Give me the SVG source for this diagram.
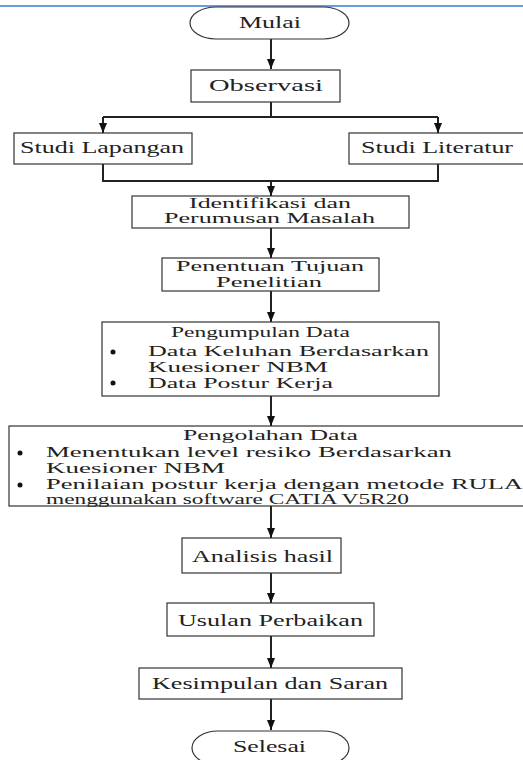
<svg xmlns="http://www.w3.org/2000/svg" width="523" height="760" viewBox="0 0 523 760">
<style>
.box{fill:#fff;stroke:#333;stroke-width:1.2}
.t{font-family:"Liberation Serif","Times New Roman","DejaVu Serif",serif;font-size:16px;fill:#222}
.s{font-size:14.5px}
.r{font-size:14px}
.c{stroke:#222;stroke-width:2;fill:none}
.b{fill:#111}
</style>
<defs>
<marker id="ah" viewBox="0 0 10 8" refX="10" refY="4" markerWidth="10" markerHeight="8" markerUnits="userSpaceOnUse" orient="auto">
<path d="M0,0 L10,4 L0,8 Z" fill="#111"/>
</marker>
</defs>
<rect width="523" height="760" fill="#fff"/>
<line x1="0" y1="6" x2="523" y2="6" stroke="#6e9ade" stroke-width="2"/>
<g id="connectors">
<path class="c" d="M271,39 V69" marker-end="url(#ah)"/>
<path class="c" d="M271,102 V117"/>
<path class="c" d="M103,117 H438"/>
<path class="c" d="M103,117 V133" marker-end="url(#ah)"/>
<path class="c" d="M438,117 V133" marker-end="url(#ah)"/>
<path class="c" d="M103,164 V181 H438 V164"/>
<path class="c" d="M271,181 V196" marker-end="url(#ah)"/>
<path class="c" d="M271,228 V258" marker-end="url(#ah)"/>
<path class="c" d="M271,291 V322" marker-end="url(#ah)"/>
<path class="c" d="M271,396 V426" marker-end="url(#ah)"/>
<path class="c" d="M271,506 V538" marker-end="url(#ah)"/>
<path class="c" d="M271,573 V603" marker-end="url(#ah)"/>
<path class="c" d="M271,636 V668" marker-end="url(#ah)"/>
<path class="c" d="M271,699 V730" marker-end="url(#ah)"/>
</g>
<g id="mulai">
<rect class="box" x="190" y="7" width="159" height="32" rx="26" ry="16"/>
<text class="t" x="239" y="28" textLength="62" lengthAdjust="spacingAndGlyphs">Mulai</text>
</g>
<g id="observasi">
<rect class="box" x="191" y="70" width="149" height="32"/>
<text class="t" x="209" y="91" textLength="114" lengthAdjust="spacingAndGlyphs">Observasi</text>
</g>
<g id="studi-lapangan">
<rect class="box" x="14" y="133" width="178" height="31"/>
<text class="t" x="20" y="153" textLength="164" lengthAdjust="spacingAndGlyphs">Studi Lapangan</text>
</g>
<g id="studi-literatur">
<rect class="box" x="349" y="133" width="180" height="31"/>
<text class="t" x="361" y="153" textLength="152" lengthAdjust="spacingAndGlyphs">Studi Literatur</text>
</g>
<g id="identifikasi">
<rect class="box" x="132" y="196" width="277" height="32"/>
<text class="t s" x="189" y="208" textLength="162" lengthAdjust="spacingAndGlyphs">Identifikasi dan</text>
<text class="t s" x="164" y="223" textLength="211" lengthAdjust="spacingAndGlyphs">Perumusan Masalah</text>
</g>
<g id="penentuan">
<rect class="box" x="162" y="258" width="217" height="33"/>
<text class="t s" x="176" y="271" textLength="188" lengthAdjust="spacingAndGlyphs">Penentuan Tujuan</text>
<text class="t s" x="216" y="287" textLength="106" lengthAdjust="spacingAndGlyphs">Penelitian</text>
</g>
<g id="pengumpulan">
<rect class="box" x="102" y="322" width="337" height="74"/>
<text class="t s" x="171" y="337" textLength="179" lengthAdjust="spacingAndGlyphs">Pengumpulan Data</text>
<circle class="b" cx="113" cy="352" r="2.5"/>
<text class="t s" x="148" y="356" textLength="281" lengthAdjust="spacingAndGlyphs">Data Keluhan Berdasarkan</text>
<text class="t s" x="148" y="372" textLength="180" lengthAdjust="spacingAndGlyphs">Kuesioner NBM</text>
<circle class="b" cx="113" cy="383" r="2.5"/>
<text class="t s" x="148" y="388" textLength="185" lengthAdjust="spacingAndGlyphs">Data Postur Kerja</text>
</g>
<g id="pengolahan">
<rect class="box" x="9" y="426" width="530" height="80"/>
<text class="t r" x="183" y="440" textLength="175" lengthAdjust="spacingAndGlyphs">Pengolahan Data</text>
<circle class="b" cx="20" cy="453" r="2.5"/>
<text class="t r" x="46" y="457" textLength="406" lengthAdjust="spacingAndGlyphs">Menentukan level resiko Berdasarkan</text>
<text class="t r" x="46" y="473" textLength="179" lengthAdjust="spacingAndGlyphs">Kuesioner NBM</text>
<circle class="b" cx="20" cy="485" r="2.5"/>
<text class="t r" x="46" y="489" textLength="477" lengthAdjust="spacingAndGlyphs">Penilaian postur kerja dengan metode RULA</text>
<text class="t r" x="46" y="504" textLength="363" lengthAdjust="spacingAndGlyphs">menggunakan software CATIA V5R20</text>
</g>
<g id="analisis">
<rect class="box" x="182" y="538" width="159" height="35"/>
<text class="t" x="192" y="562" textLength="141" lengthAdjust="spacingAndGlyphs">Analisis hasil</text>
</g>
<g id="usulan">
<rect class="box" x="167" y="603" width="207" height="33"/>
<text class="t" x="178" y="626" textLength="185" lengthAdjust="spacingAndGlyphs">Usulan Perbaikan</text>
</g>
<g id="kesimpulan">
<rect class="box" x="139" y="668" width="263" height="31"/>
<text class="t" x="152" y="689" textLength="236" lengthAdjust="spacingAndGlyphs">Kesimpulan dan Saran</text>
</g>
<g id="selesai">
<rect class="box" x="192" y="731" width="157" height="34" rx="26" ry="17"/>
<text class="t" x="233" y="752" textLength="73" lengthAdjust="spacingAndGlyphs">Selesai</text>
</g>
</svg>
